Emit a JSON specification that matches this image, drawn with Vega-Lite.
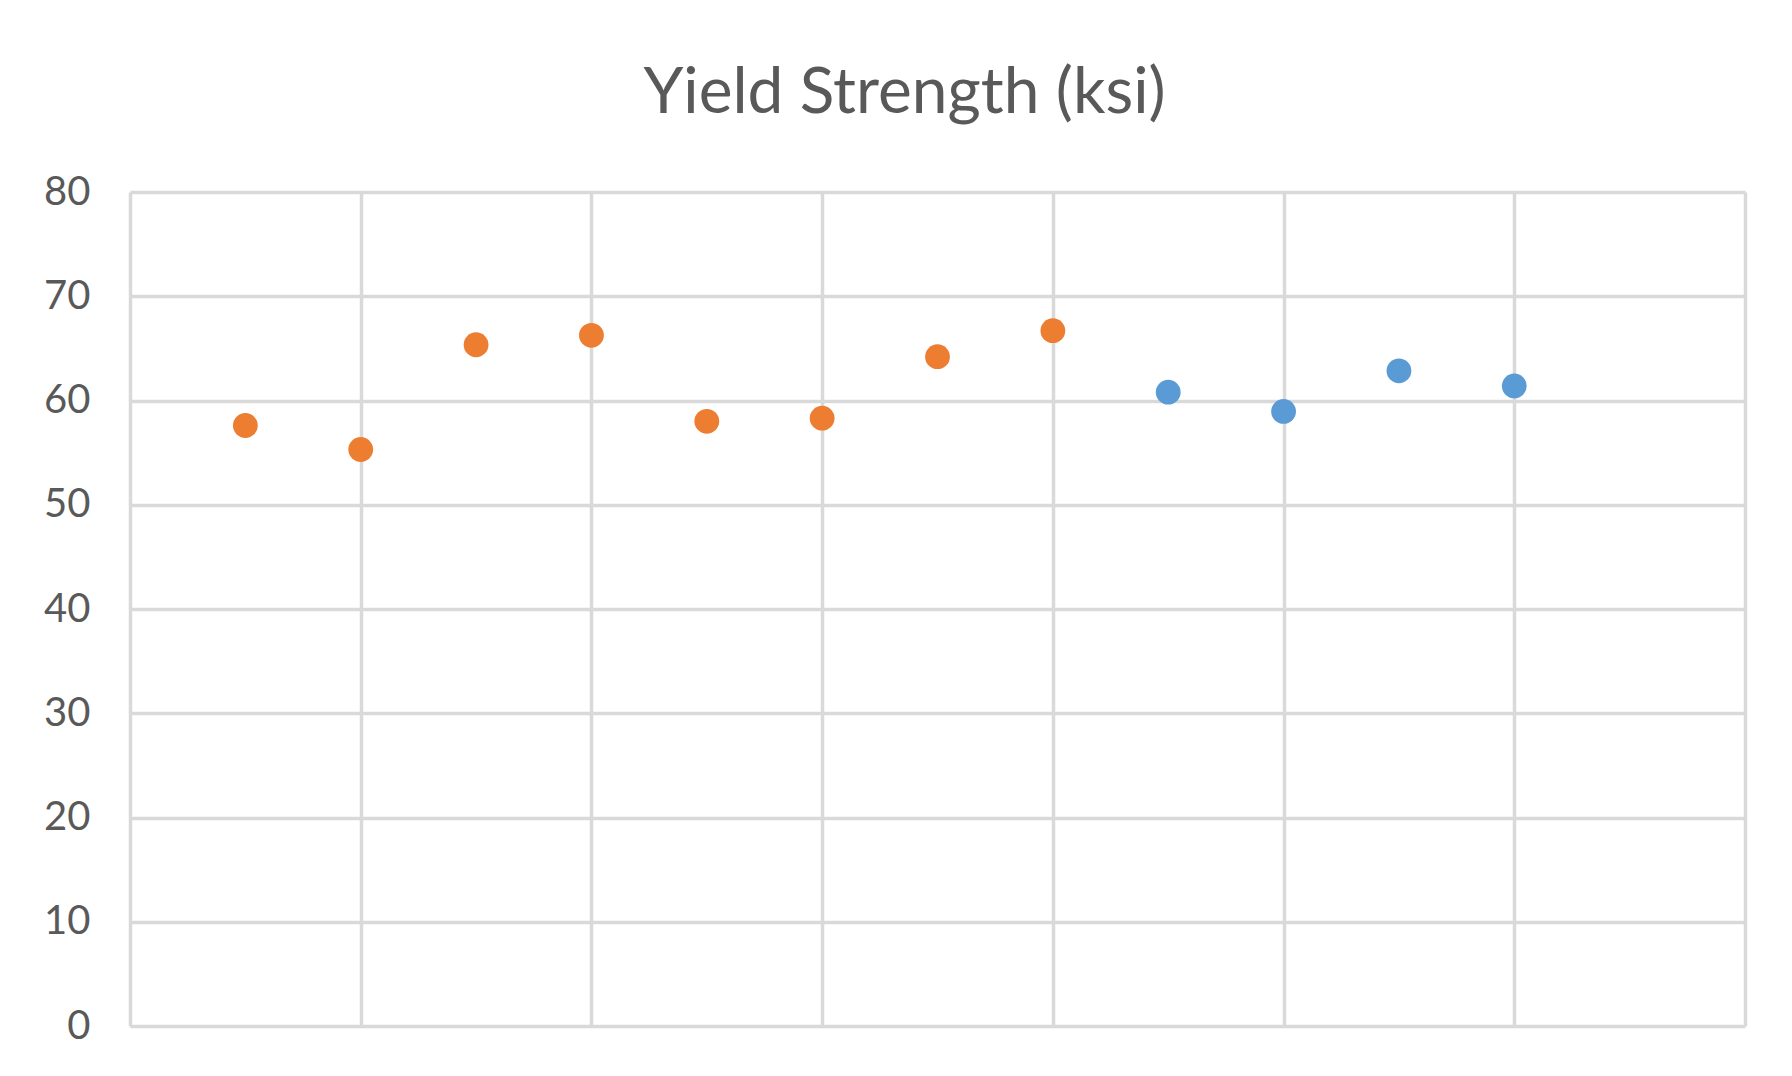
{
  "$schema": "https://vega.github.io/schema/vega-lite/v6.json",
  "autosize": "none",
  "width": 1615,
  "height": 834,
  "padding": {"left": 130, "top": 192, "right": 47, "bottom": 50},
  "background": "white",
  "title": {
    "text": "Yield Strength (ksi)",
    "font": "Lato",
    "fontSize": 64,
    "fontWeight": "normal",
    "color": "#595959",
    "anchor": "middle",
    "frame": "group",
    "dx": -33,
    "baseline": "alphabetic",
    "offset": -5
  },
  "data": {
    "values": [
      {"x": 0.5, "ys": 57.6, "series": "Series 1"},
      {"x": 1.0, "ys": 55.3, "series": "Series 1"},
      {"x": 1.5, "ys": 65.35, "series": "Series 1"},
      {"x": 2.0, "ys": 66.25, "series": "Series 1"},
      {"x": 2.5, "ys": 58.0, "series": "Series 1"},
      {"x": 3.0, "ys": 58.3, "series": "Series 1"},
      {"x": 3.5, "ys": 64.2, "series": "Series 1"},
      {"x": 4.0, "ys": 66.7, "series": "Series 1"},
      {"x": 4.5, "ys": 60.8, "series": "Series 2"},
      {"x": 5.0, "ys": 58.95, "series": "Series 2"},
      {"x": 5.5, "ys": 62.85, "series": "Series 2"},
      {"x": 6.0, "ys": 61.4, "series": "Series 2"}
    ]
  },
  "mark": {"type": "circle", "size": 615, "opacity": 1},
  "encoding": {
    "x": {
      "field": "x",
      "type": "quantitative",
      "scale": {"domain": [0, 7], "nice": false, "zero": false},
      "axis": {
        "values": [0, 1, 2, 3, 4, 5, 6, 7],
        "labels": false,
        "ticks": false,
        "domain": false,
        "title": null,
        "grid": true,
        "gridColor": "#D9D9D9",
        "gridWidth": 3.5
      }
    },
    "y": {
      "field": "ys",
      "type": "quantitative",
      "scale": {"domain": [0, 80], "nice": false},
      "axis": {
        "values": [0, 10, 20, 30, 40, 50, 60, 70, 80],
        "ticks": false,
        "tickSize": 0,
        "domain": false,
        "title": null,
        "grid": true,
        "gridColor": "#D9D9D9",
        "gridWidth": 3.5,
        "labelFont": "Lato",
        "labelFontSize": 40,
        "labelColor": "#595959",
        "labelPadding": 40
      }
    },
    "color": {
      "field": "series",
      "type": "nominal",
      "scale": {"domain": ["Series 1", "Series 2"], "range": ["#ED7D31", "#5B9BD5"]},
      "legend": null
    }
  },
  "config": {"view": {"stroke": null}}
}
